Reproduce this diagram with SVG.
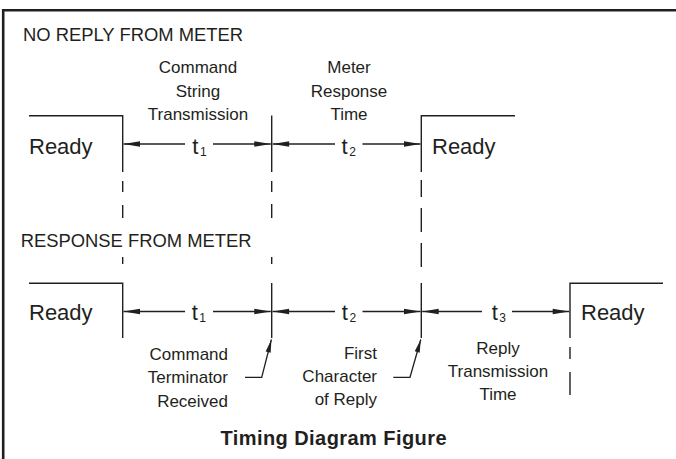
<svg xmlns="http://www.w3.org/2000/svg" width="676" height="459" viewBox="0 0 676 459">
<style>
  text { font-family: "Liberation Sans", Arial, sans-serif; fill: #231f20; }
  .head { font-size: 18.4px; }
  .lbl { font-size: 17px; }
  .ready { font-size: 22px; }
  .t { font-size: 22px; }
  .sub { font-size: 12px; }
  .title { font-size: 20px; font-weight: bold; }
  .sig { stroke: #231f20; stroke-width: 1.4; fill: none; }
  .dim { stroke: #231f20; stroke-width: 1.3; fill: none; marker-end: url(#ah); }
  .lead { stroke: #231f20; stroke-width: 1.3; fill: none; marker-end: url(#ah2); }
</style>
<defs>
  <marker id="ah" markerUnits="userSpaceOnUse" markerWidth="20" markerHeight="10" viewBox="-18 -5 20 10" refX="0" refY="0" orient="auto">
    <path d="M0,0 L-16.5,-2.8 L-16.5,2.8 Z" fill="#231f20"/>
  </marker>
  <marker id="ah2" markerUnits="userSpaceOnUse" markerWidth="20" markerHeight="10" viewBox="-18 -5 20 10" refX="0" refY="0" orient="auto">
    <path d="M0,0 L-13,-2.6 L-13,2.6 Z" fill="#231f20"/>
  </marker>
</defs>
<rect width="676" height="459" fill="#ffffff"/>
<path id="frame" d="M3.2,459 L3.2,10.3 L676,10.3" stroke="#231f20" stroke-width="2.6" fill="none"/>

<g id="signal-no-reply">
  <path class="sig" d="M29,115.7 H122.7 V172"/>
  <path class="sig" d="M271.7,115.5 V172"/>
  <path class="sig" d="M515,115.7 H421.3 V172"/>
</g>
<g id="signal-response">
  <path class="sig" d="M29,283.3 H122.7 V338"/>
  <path class="sig" d="M271.7,283 V338"/>
  <path class="sig" d="M421.3,283 V338"/>
  <path class="sig" d="M663,283.3 H570 V338"/>
</g>
<g id="guides">
  <path class="sig" d="M122.7,181 V192 M122.7,205 V218 M122.7,257 V264"/>
  <path class="sig" d="M271.7,181 V192 M271.7,204 V218 M271.7,257 V264"/>
  <path class="sig" d="M421.3,180 V197 M421.3,208 V232 M421.3,243 V267"/>
  <path class="sig" d="M570,347 V359 M570,372 V395"/>
</g>

<g id="connectors">
  <line class="dim" x1="185" y1="144" x2="123.5" y2="144"/>
  <line class="dim" x1="213" y1="144" x2="270.8" y2="144"/>
  <line class="dim" x1="335" y1="144" x2="272.6" y2="144"/>
  <line class="dim" x1="362.5" y1="144" x2="420.5" y2="144"/>
  <line class="dim" x1="185" y1="311.5" x2="123.5" y2="311.5"/>
  <line class="dim" x1="213" y1="311.5" x2="270.8" y2="311.5"/>
  <line class="dim" x1="335" y1="311.5" x2="272.6" y2="311.5"/>
  <line class="dim" x1="362.5" y1="311.5" x2="420.5" y2="311.5"/>
  <line class="dim" x1="482" y1="311.5" x2="422.2" y2="311.5"/>
  <line class="dim" x1="512" y1="311.5" x2="569.2" y2="311.5"/>
  <path class="lead" d="M245,377.3 H261.7 L271.4,339.5"/>
  <path class="lead" d="M393.3,377.3 H410 L420.8,339.5"/>
</g>

<g id="label-no-reply">
  <text class="head" x="23" y="41">NO REPLY FROM METER</text>
  <text class="lbl" x="198" y="73" text-anchor="middle">Command</text>
  <text class="lbl" x="198" y="97" text-anchor="middle">String</text>
  <text class="lbl" x="198" y="120" text-anchor="middle">Transmission</text>
  <text class="lbl" x="349" y="73" text-anchor="middle">Meter</text>
  <text class="lbl" x="349" y="97" text-anchor="middle">Response</text>
  <text class="lbl" x="349" y="120" text-anchor="middle">Time</text>
  <text class="ready" x="29" y="154">Ready</text>
  <text class="ready" x="432" y="154">Ready</text>
  <text class="t" x="192.3" y="153.5">t<tspan class="sub" dx="1.5" dy="2">1</tspan></text>
  <text class="t" x="341.5" y="153.5">t<tspan class="sub" dx="1.5" dy="2">2</tspan></text>
</g>

<g id="label-response">
  <text class="head" x="20.7" y="246.7">RESPONSE FROM METER</text>
  <text class="ready" x="29" y="320">Ready</text>
  <text class="ready" x="581" y="320">Ready</text>
  <text class="t" x="191.7" y="319.5">t<tspan class="sub" dx="1.5" dy="2">1</tspan></text>
  <text class="t" x="341.8" y="319.5">t<tspan class="sub" dx="1.5" dy="2">2</tspan></text>
  <text class="t" x="491.7" y="319.5">t<tspan class="sub" dx="1.5" dy="2">3</tspan></text>
  <text class="lbl" x="228" y="360" text-anchor="end">Command</text>
  <text class="lbl" x="228" y="383.3" text-anchor="end">Terminator</text>
  <text class="lbl" x="228" y="406.7" text-anchor="end">Received</text>
  <text class="lbl" x="377" y="359.3" text-anchor="end">First</text>
  <text class="lbl" x="377" y="382.3" text-anchor="end">Character</text>
  <text class="lbl" x="377" y="405" text-anchor="end">of Reply</text>
  <text class="lbl" x="498" y="354" text-anchor="middle">Reply</text>
  <text class="lbl" x="498" y="376.7" text-anchor="middle">Transmission</text>
  <text class="lbl" x="498" y="400" text-anchor="middle">Time</text>
</g>

<text id="title" class="title" x="220.5" y="445" textLength="226" lengthAdjust="spacing">Timing Diagram Figure</text>
</svg>
